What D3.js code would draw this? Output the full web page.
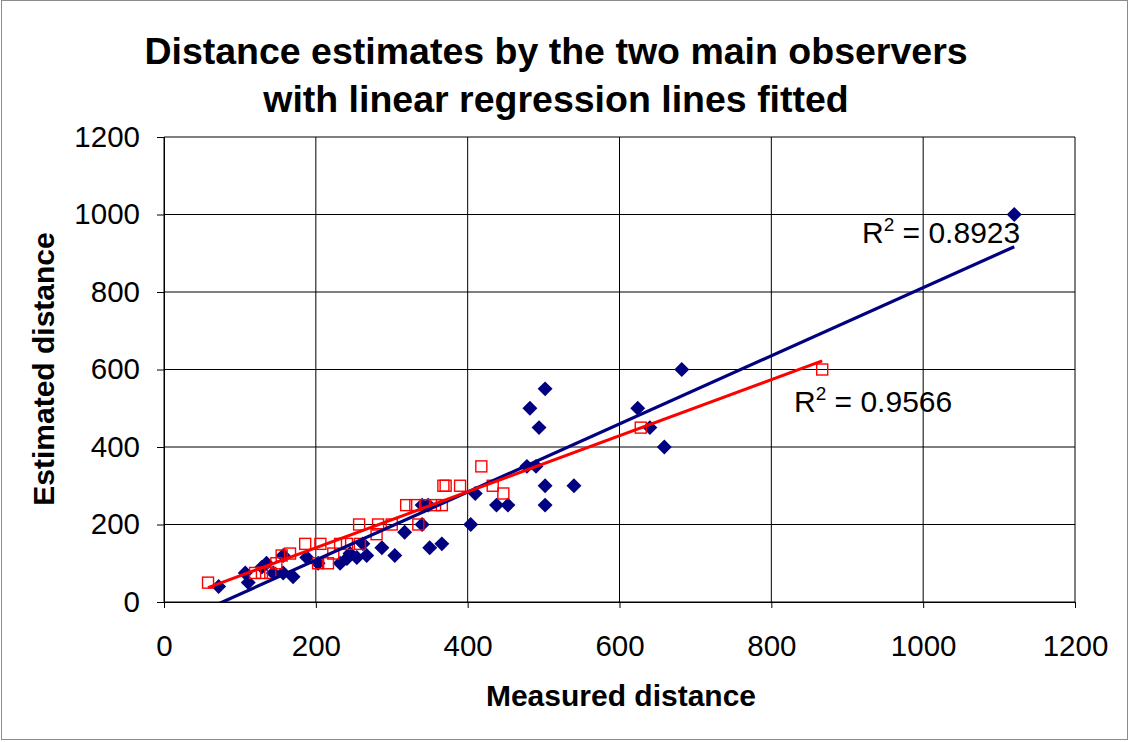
<!DOCTYPE html>
<html>
<head>
<meta charset="utf-8">
<script src="https://cdn.jsdelivr.net/npm/d3@7"></script>
<style>
  body { margin: 0; background: #fff; }
  svg text { font-family: "Liberation Sans", Arial, sans-serif; }
</style>
</head>
<body>
<svg id="canvas" width="1129" height="742"></svg>
<script>
// observer A (blue diamonds)
const obsAMeasured = [72, 107, 111, 129, 135, 144, 157, 157, 170, 188, 203, 232, 241, 245, 254, 262, 267, 287, 304, 317,
  340, 340, 348, 350, 366, 404, 410, 438, 453, 478, 490, 482, 494, 502, 502, 502, 540, 624, 640, 659, 682, 1120]
const obsAEstimated = [40, 75, 50, 90, 100, 75, 120, 75, 65, 115, 100, 100, 112, 125, 115, 150, 120, 140, 120, 180,
  200, 250, 250, 140, 150, 200, 280, 250, 250, 350, 350, 500, 450, 550, 300, 250, 300, 500, 450, 400, 600, 1000]

// observer B (red open squares)
const obsBMeasured = [58, 120, 129, 140, 148, 155, 166, 186, 203, 206, 216, 223, 232, 241, 257, 258, 280, 282, 300,
  319, 331, 335, 344, 357, 366, 368, 371, 390, 418, 433, 447, 628, 867]
const obsBEstimated = [50, 75, 75, 75, 100, 120, 125, 150, 100, 150, 100, 125, 150, 150, 200, 150, 175, 200, 200,
  250, 250, 200, 250, 250, 250, 300, 300, 300, 350, 300, 280, 450, 600]

// fitted lines (slope, intercept) and their R2 labels
const fitA = [0.879, -67.7]
const fitB = [0.723, -4.6]
const r2Labels = ['0.8923', '0.9566']

const xTicks = [0, 200, 400, 600, 800, 1000, 1200]
const yTicks = [0, 200, 400, 600, 800, 1000, 1200]

let svg = d3.select('#canvas')

// outer border
svg.append('rect')
    .attr('x', 1.5).attr('y', 0.5)
    .attr('width', 1126).attr('height', 739)
    .attr('fill', 'none')
    .attr('stroke', '#8c8c8c')

let xScale = d3.scaleLinear().domain([0, 1200]).range([164, 1075])
let yScale = d3.scaleLinear().domain([0, 1200]).range([602, 137])

// gridlines
svg.append('g')
    .selectAll('line')
    .data(xTicks)
    .enter()
    .append('line')
    .attr('x1', d => xScale(d)).attr('x2', d => xScale(d))
    .attr('y1', yScale(0)).attr('y2', yScale(1200))
    .attr('stroke', '#000').attr('stroke-width', 1)

svg.append('g')
    .selectAll('line')
    .data(yTicks)
    .enter()
    .append('line')
    .attr('x1', xScale(0)).attr('x2', xScale(1200))
    .attr('y1', d => yScale(d)).attr('y2', d => yScale(d))
    .attr('stroke', '#000').attr('stroke-width', 1)

// axes
svg.append('g')
    .attr('transform', 'translate(0,' + yScale(0) + ')')
    .call(d3.axisBottom(xScale).tickValues(xTicks).tickSize(6).tickPadding(27).tickFormat(d3.format('d')))
svg.append('g')
    .attr('transform', 'translate(' + xScale(0) + ',0)')
    .call(d3.axisLeft(yScale).tickValues(yTicks).tickSize(7).tickPadding(17).tickFormat(d3.format('d')))

svg.selectAll('.domain').attr('stroke', '#000')
svg.selectAll('.tick line').attr('stroke', '#000')
svg.selectAll('.tick text')
    .attr('font-size', 29.5)
    .attr('fill', '#000')
    .style('font-family', '"Liberation Sans", Arial, sans-serif')

// clip to plot area
svg.append('clipPath').attr('id', 'plotClip')
    .append('rect')
    .attr('x', xScale(0)).attr('y', yScale(1200))
    .attr('width', xScale(1200) - xScale(0))
    .attr('height', yScale(0) - yScale(1200))

let dataA = obsAMeasured.map((m, i) => ({ x: m, y: obsAEstimated[i] }))
let dataB = obsBMeasured.map((m, i) => ({ x: m, y: obsBEstimated[i] }))

let fitLine = (data, fit) => {
    let ext = d3.extent(data, d => d.x)
    return ext.map(x => [xScale(x), yScale(fit[0] * x + fit[1])])
}

let plot = svg.append('g').attr('clip-path', 'url(#plotClip)')

// markers
plot.selectAll('.diamond')
    .data(dataA)
    .enter()
    .append('path')
    .attr('class', 'diamond')
    .attr('d', d3.symbol().type(d3.symbolSquare).size(112))
    .attr('transform', d => 'translate(' + xScale(d.x) + ',' + yScale(d.y) + ') rotate(45)')
    .attr('fill', '#000080')

plot.selectAll('.square')
    .data(dataB)
    .enter()
    .append('rect')
    .attr('class', 'square')
    .attr('x', d => xScale(d.x) - 5.5)
    .attr('y', d => yScale(d.y) - 5.5)
    .attr('width', 11).attr('height', 11)
    .attr('fill', 'none')
    .attr('stroke', '#ff0000')
    .attr('stroke-width', 1.4)

// regression lines
plot.append('path')
    .attr('d', d3.line()(fitLine(dataA, fitA)))
    .attr('stroke', '#000080').attr('stroke-width', 3.2).attr('fill', 'none')
plot.append('path')
    .attr('d', d3.line()(fitLine(dataB, fitB)))
    .attr('stroke', '#ff0000').attr('stroke-width', 3).attr('fill', 'none')

// R2 labels
let r2 = (x, y, val) => {
    let t = svg.append('text')
        .attr('x', x).attr('y', y)
        .attr('font-size', 30)
        .attr('fill', '#000')
    t.append('tspan').text('R')
    t.append('tspan').attr('font-size', 19).attr('dy', -12).text('2')
    t.append('tspan').attr('dy', 12).text(' = ' + val)
}
r2(862, 243, r2Labels[0])
r2(794, 412, r2Labels[1])

// titles
svg.append('text')
    .attr('x', 556).attr('y', 64)
    .attr('text-anchor', 'middle')
    .attr('font-size', 37.5).attr('font-weight', 'bold')
    .text('Distance estimates by the two main observers')
svg.append('text')
    .attr('x', 556).attr('y', 112)
    .attr('text-anchor', 'middle')
    .attr('font-size', 37.5).attr('font-weight', 'bold')
    .text('with linear regression lines fitted')

svg.append('text')
    .attr('x', 621).attr('y', 706)
    .attr('text-anchor', 'middle')
    .attr('font-size', 30).attr('font-weight', 'bold')
    .text('Measured distance')

svg.append('text')
    .attr('transform', 'translate(54,369) rotate(-90)')
    .attr('text-anchor', 'middle')
    .attr('font-size', 30).attr('font-weight', 'bold')
    .text('Estimated distance')
</script>
</body>
</html>
